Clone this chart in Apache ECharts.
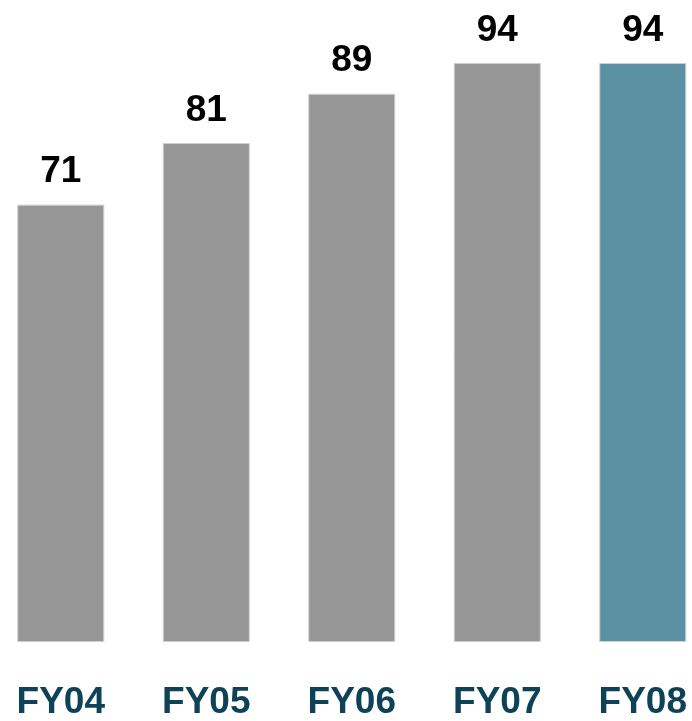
<!DOCTYPE html>
<html>
<head>
<meta charset="utf-8">
<script src="https://cdn.jsdelivr.net/npm/echarts@6/dist/echarts.min.js"></script>
<style>
  html, body { margin: 0; padding: 0; background: #fff; overflow: hidden; }
  #chart { width: 728px; height: 721px; margin-left: -12px; }
</style>
</head>
<body>
<div id="chart"></div>
<script>
// 财年与数值
const years = ['FY04', 'FY05', 'FY06', 'FY07', 'FY08']
const values = [71, 81, 89, 94, 94]
const barColors = ['#969696', '#969696', '#969696', '#969696', '#5c90a3']

const chart = echarts.init(document.getElementById('chart'))

chart.setOption({
  animation: false,
  grid: { left: 0, top: 26, width: 727.5, height: 622, containLabel: false },
  xAxis: {
    type: 'category',
    data: years,
    axisLine: { show: false },
    axisTick: { show: false },
    axisLabel: {
      margin: 42,
      color: '#0e4257',
      fontFamily: 'Liberation Sans, Arial, sans-serif',
      fontWeight: 'bold',
      fontSize: 37
    }
  },
  yAxis: {
    type: 'value',
    min: 0,
    max: 100,
    show: false
  },
  series: [{
    type: 'bar',
    barWidth: 87,
    data: values.map((v, i) => ({
      value: v,
      itemStyle: { color: barColors[i] }
    })),
    itemStyle: { borderColor: '#cfcfcf', borderWidth: 1 },
    label: {
      show: true,
      position: 'top',
      distance: 14,
      color: '#000',
      fontFamily: 'Liberation Sans, Arial, sans-serif',
      fontWeight: 'bold',
      fontSize: 37
    }
  }]
})
</script>
</body>
</html>
